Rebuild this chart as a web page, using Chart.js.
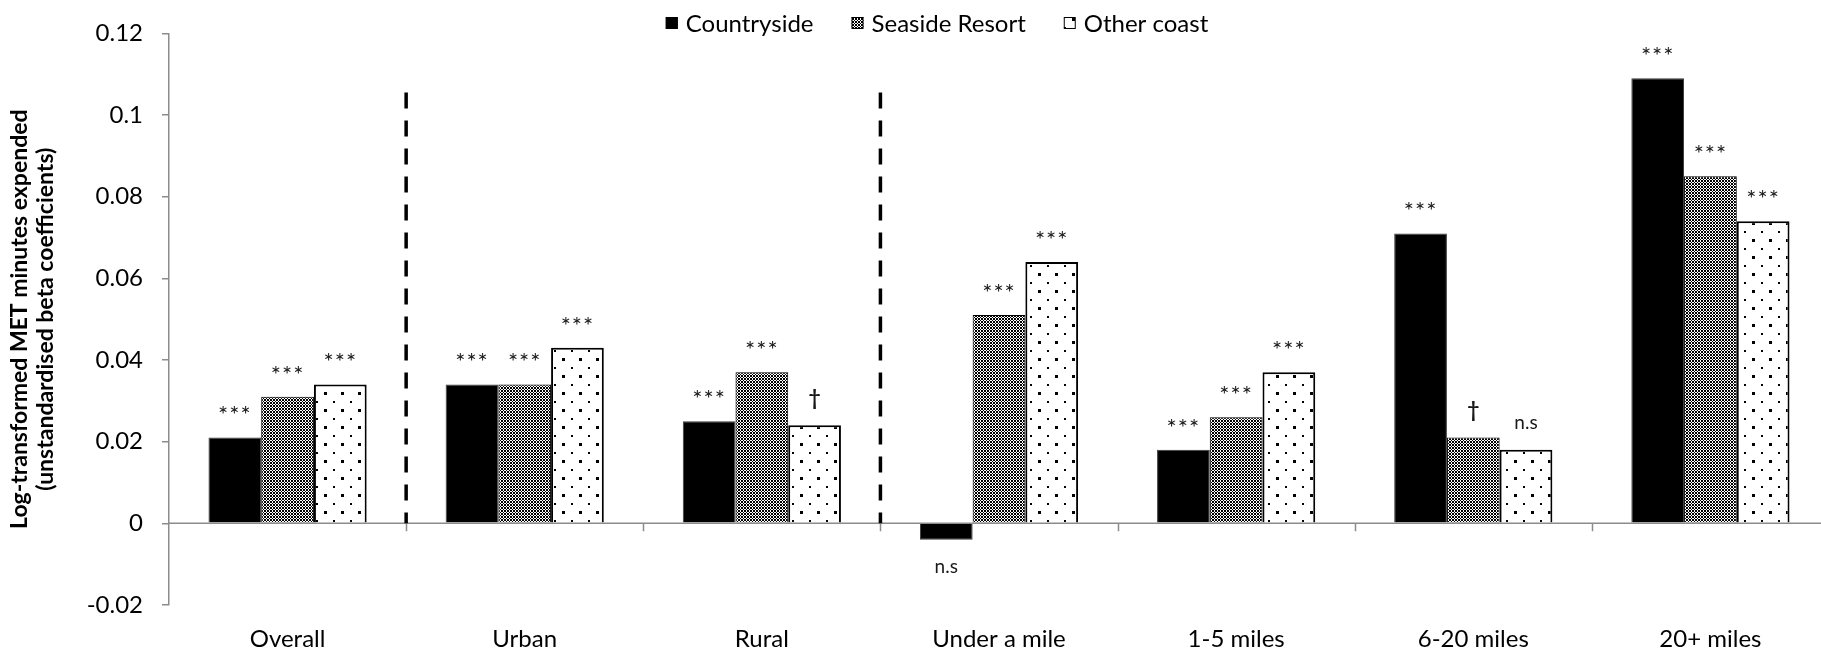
<!DOCTYPE html>
<html>
<head>
<meta charset="utf-8">
<script src="https://cdn.jsdelivr.net/npm/chart.js@4/dist/chart.umd.min.js"></script>
<style>
  html, body { margin: 0; padding: 0; background: #fff; overflow: hidden; }
  #wrap { position: relative; width: 1829px; height: 654px; }
</style>
</head>
<body>
<div id="wrap"><canvas id="c"></canvas></div>
<script>
// Categories and regression coefficients per destination type
const categories = ['Overall', 'Urban', 'Rural', 'Under a mile', '1-5 miles', '6-20 miles', '20+ miles'];
const countryside = [0.021, 0.034, 0.025, -0.004, 0.018, 0.071, 0.109];
const seasideResort = [0.031, 0.034, 0.037, 0.051, 0.026, 0.021, 0.085];
const otherCoast = [0.034, 0.043, 0.024, 0.064, 0.037, 0.018, 0.074];

// Significance markers shown next to each bar
const countrysideSig = ['***', '***', '***', 'n.s', '***', '***', '***'];
const seasideResortSig = ['***', '***', '***', '***', '***', '\u2020', '***'];
const otherCoastSig = ['***', '***', '\u2020', '***', '***', 'n.s', '***'];

const seriesNames = ['Countryside', 'Seaside Resort', 'Other coast'];
const yTicks = [-0.02, 0, 0.02, 0.04, 0.06, 0.08, 0.1, 0.12];

// Category boundaries marked with a dashed divider (index of the category to the right)
const dividers = [1, 3];

const FONT = 'Lato, "Liberation Sans", sans-serif';
const canvas = document.getElementById('c');
const ctx0 = canvas.getContext('2d');

// Checkered fill for seaside resorts
function checkerPattern() {
  const rows = ['BBW', 'BBW', 'WWB'];
  const n = rows.length;
  const c = document.createElement('canvas');
  c.width = n; c.height = n;
  const g = c.getContext('2d');
  g.fillStyle = '#fff'; g.fillRect(0, 0, n, n);
  g.fillStyle = '#000';
  rows.forEach((r, y) => [...r].forEach((ch, x) => { if (ch === 'B') g.fillRect(x, y, 1, 1); }));
  return ctx0.createPattern(c, 'repeat');
}

// Sparse dotted fill for other coast
function dotPattern() {
  const c = document.createElement('canvas');
  c.width = 17; c.height = 17;
  const g = c.getContext('2d');
  g.fillStyle = '#fff'; g.fillRect(0, 0, 17, 17);
  g.fillStyle = '#000';
  g.fillRect(1, 1, 3, 3);
  g.fillRect(10, 10, 2, 2);
  return ctx0.createPattern(c, 'repeat');
}

const checker = checkerPattern();
const dots = dotPattern();

const datasets = [
  { label: seriesNames[0], data: countryside, sig: countrysideSig,
    backgroundColor: '#000', borderColor: '#3a3a3a', borderWidth: 1 },
  { label: seriesNames[1], data: seasideResort, sig: seasideResortSig,
    backgroundColor: checker, borderColor: '#000', borderWidth: 1 },
  { label: seriesNames[2], data: otherCoast, sig: otherCoastSig,
    backgroundColor: dots, borderColor: '#000', borderWidth: 2 }
];

const AXIS_GREY = '#8c8c8c';

// Zero line, category ticks and dashed dividers
const framePlugin = {
  id: 'frame',
  afterDatasetsDraw(chart) {
    const { ctx, chartArea, scales: { x, y } } = chart;
    const y0 = y.getPixelForValue(0);
    const step = x.getPixelForValue(1) - x.getPixelForValue(0);
    ctx.save();
    ctx.strokeStyle = AXIS_GREY;
    ctx.lineWidth = 1.5;
    ctx.beginPath();
    ctx.moveTo(chartArea.left, y0);
    ctx.lineTo(chartArea.right, y0);
    for (let i = 1; i <= categories.length; i++) {
      const bx = Math.round(x.getPixelForValue(i - 1) + step / 2) + 0.5;
      ctx.moveTo(bx, y0);
      ctx.lineTo(bx, y0 + 8);
    }
    ctx.stroke();

    ctx.strokeStyle = '#000';
    ctx.lineWidth = 3.5;
    ctx.setLineDash([16, 12]);
    dividers.forEach(i => {
      const bx = x.getPixelForValue(i) - step / 2;
      ctx.beginPath();
      ctx.moveTo(bx, y.getPixelForValue(0.1055));
      ctx.lineTo(bx, y0);
      ctx.stroke();
    });
    ctx.restore();
  }
};

// Significance markers above (or below, for negative) bars
const sigPlugin = {
  id: 'sig',
  afterDatasetsDraw(chart) {
    const { ctx } = chart;
    ctx.save();
    ctx.fillStyle = '#1a1a1a';
    ctx.textAlign = 'center';
    ctx.textBaseline = 'middle';
    chart.data.datasets.forEach((ds, d) => {
      const meta = chart.getDatasetMeta(d);
      meta.data.forEach((bar, i) => {
        const t = ds.sig[i];
        const neg = ds.data[i] < 0;
        let yy = neg ? bar.y + 27 : bar.y - 27;
        if (t === '***') {
          ctx.font = '24px ' + FONT;
          ctx.letterSpacing = '1px';
          yy += 5;
        } else if (t === 'n.s') {
          ctx.font = '19px ' + FONT;
          ctx.letterSpacing = '0px';
        } else {
          ctx.font = 'bold 21px ' + FONT;
          ctx.letterSpacing = '0px';
        }
        ctx.fillText(t, bar.x, yy);
      });
    });
    ctx.restore();
  }
};

// Legend row across the top
const legendPlugin = {
  id: 'topLegend',
  afterDraw(chart) {
    const { ctx } = chart;
    const box = 12, gapText = 8, gapItem = 38, cy = 23, centerX = 937;
    ctx.save();
    ctx.font = '24px ' + FONT;
    ctx.textBaseline = 'middle';
    const widths = chart.data.datasets.map(ds => ctx.measureText(ds.label).width);
    const total = widths.reduce((a, w) => a + box + gapText + w, 0) + gapItem * (widths.length - 1);
    let x = centerX - total / 2;
    chart.data.datasets.forEach((ds, d) => {
      ctx.fillStyle = ds.backgroundColor;
      ctx.fillRect(x, cy - box / 2, box, box);
      ctx.strokeStyle = '#000';
      ctx.lineWidth = 1;
      ctx.strokeRect(x + 0.5, cy - box / 2 + 0.5, box - 1, box - 1);
      ctx.fillStyle = '#000';
      ctx.fillText(ds.label, x + box + gapText, cy + 1);
      x += box + gapText + widths[d] + gapItem;
    });
    ctx.restore();
  }
};

new Chart(canvas, {
  type: 'bar',
  data: { labels: categories, datasets },
  options: {
    responsive: true,
    maintainAspectRatio: false,
    animation: false,
    events: [],
    layout: { padding: { top: 21, right: 0, bottom: 0, left: 0 } },
    plugins: { legend: { display: false }, tooltip: { enabled: false } },
    datasets: { bar: { categoryPercentage: 0.667, barPercentage: 1.0 } },
    scales: {
      x: {
        grid: { display: false, drawTicks: false },
        border: { display: false },
        ticks: { color: '#000', font: { family: FONT, size: 24 }, padding: 20, maxRotation: 0 },
        afterFit(s) { s.height = 49; }
      },
      y: {
        min: -0.02,
        max: 0.12,
        afterBuildTicks(s) { s.ticks = yTicks.map(v => ({ value: v })); },
        grid: { drawOnChartArea: false, drawTicks: true, tickLength: 7, color: AXIS_GREY, lineWidth: 1.5 },
        border: { display: true, color: AXIS_GREY, width: 1.5 },
        ticks: {
          color: '#000',
          font: { family: FONT, size: 24 },
          padding: 19,
          callback: v => String(Number(v.toFixed(2)))
        },
        title: {
          display: true,
          text: ['Log-transformed MET minutes expended', '(unstandardised beta coefficients)'],
          color: '#000',
          font: { family: FONT, size: 23, weight: 'bold', lineHeight: 1.15 },
          padding: { top: 6, bottom: 0 }
        },
        afterFit(s) { s.width = 169; }
      }
    }
  },
  plugins: [framePlugin, sigPlugin, legendPlugin]
});
</script>
</body>
</html>
